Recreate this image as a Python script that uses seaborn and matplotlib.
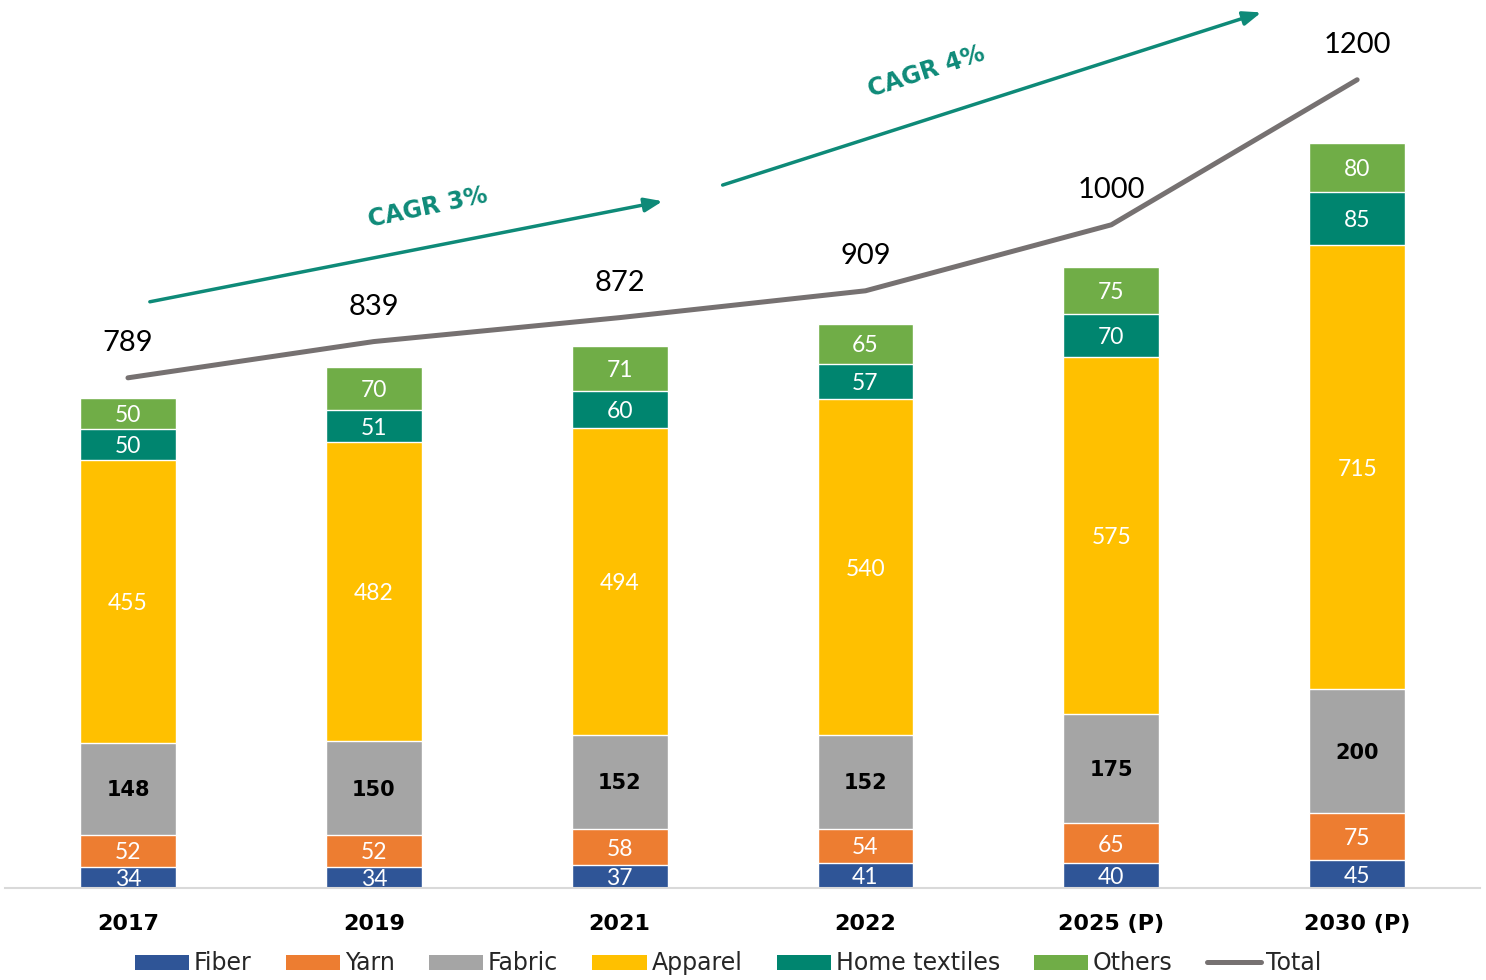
import numpy as np
import pandas as pd
import matplotlib
matplotlib.use("Agg")
import matplotlib.pyplot as plt
import seaborn as sns
from matplotlib.patches import Patch
from matplotlib.lines import Line2D

# ---- data ----
years = ["2017", "2019", "2021", "2022", "2025 (P)", "2030 (P)"]
fiber = [34, 34, 37, 41, 40, 45]
yarn = [52, 52, 58, 54, 65, 75]
fabric = [148, 150, 152, 152, 175, 200]
apparel = [455, 482, 494, 540, 575, 715]
home_textiles = [50, 51, 60, 57, 70, 85]
others = [50, 70, 71, 65, 75, 80]
total = [789, 839, 872, 909, 1000, 1200]
series_names = ["Fiber", "Yarn", "Fabric", "Apparel", "Home textiles", "Others"]
cagr_labels = ["CAGR 3%", "CAGR 4%"]

colors = ["#2F5597", "#ED7D31", "#A5A5A5", "#FFC000", "#00856F", "#70AD47"]
label_colors = ["white", "white", "black", "white", "white", "white"]
line_color = "#767171"
teal = "#0E8A78"

sns.set_theme(style="white")
plt.rcParams["font.family"] = ["DejaVu Sans"]

series = [fiber, yarn, fabric, apparel, home_textiles, others]
df = pd.DataFrame({"year": years})
for name, vals in zip(series_names, series):
    df[name] = vals
cum = df[series_names].cumsum(axis=1)

fig = plt.figure(figsize=(14.86, 9.8), dpi=100)
ax = fig.add_axes([0.0034, 0.0939, 0.9926, 0.9061])

# draw cumulative bars from top to bottom (stacked look)
for i in range(len(series_names) - 1, -1, -1):
    name = series_names[i]
    sns.barplot(x=df["year"], y=cum[name], order=years, color=colors[i],
                width=0.39, edgecolor="white", linewidth=1.0, ax=ax,
                saturation=1)

# segment labels
for i, name in enumerate(series_names):
    for j in range(len(years)):
        v = df[name][j]
        top = cum[name][j]
        yc = top - v / 2
        if name == "Fabric":
            ax.annotate(f"{v}", (j, yc), xytext=(0, -1.2), textcoords="offset points",
                        ha="center", va="center", fontsize=15,
                        fontweight="bold", color="black", family="DejaVu Sans")
        else:
            ax.annotate(f"{v}", (j, yc), xytext=(0, -1.5), textcoords="offset points",
                        ha="center", va="center", fontsize=16.5,
                        color=label_colors[i], family="Lato")

ax.set_xlim(-0.5, 5.5)
ax.set_ylim(0, 1430)
ax.set_xlabel("")
ax.set_ylabel("")
ax.set_yticks([])
for s in ["top", "right", "left"]:
    ax.spines[s].set_visible(False)
ax.spines["bottom"].set_color("#D9D9D9")
ax.spines["bottom"].set_linewidth(1.5)
ax.tick_params(axis="x", length=0, pad=18.5)
for lab in ax.get_xticklabels():
    lab.set_fontsize(16)
    lab.set_fontweight("bold")
    lab.set_color("black")

# total line on secondary axis
ax2 = ax.twinx()
xs = np.arange(len(years))
sns.lineplot(x=xs, y=total, color=line_color, linewidth=3.6, ax=ax2,
             solid_capstyle="round")
ax2.set_ylim(85.5, 1310)
ax2.set_xlim(-0.5, 5.5)
ax2.set_yticks([])
ax2.set_ylabel("")
for s in ["top", "right", "left", "bottom"]:
    ax2.spines[s].set_visible(False)
for x, t in zip(xs, total):
    ax2.annotate(f"{t}", (x, t), xytext=(0, 24.8), textcoords="offset points",
                 ha="center", va="center", fontsize=21, family="Lato",
                 color="black")

# CAGR arrows
ax.annotate("", xy=(2.175, 1106), xytext=(0.089, 944),
            arrowprops=dict(arrowstyle="-|>,head_length=0.9,head_width=0.35",
                            color=teal, lw=2.5, shrinkA=0, shrinkB=0))
ax.annotate("", xy=(4.61, 1410), xytext=(2.419, 1132),
            arrowprops=dict(arrowstyle="-|>,head_length=0.9,head_width=0.35",
                            color=teal, lw=2.5, shrinkA=0, shrinkB=0))
ax.text(1.22, 1095, cagr_labels[0], rotation=12, ha="center", va="center",
        fontsize=17, fontweight="bold", color=teal, rotation_mode="anchor")
ax.text(3.25, 1314, cagr_labels[1], rotation=18, ha="center", va="center",
        fontsize=17, fontweight="bold", color=teal, rotation_mode="anchor")

# legend
handles = [Patch(facecolor=c, edgecolor="none") for c in colors]
handles.append(Line2D([0], [0], color=line_color, lw=3.6, solid_capstyle="round"))
labels = series_names + ["Total"]
fig.legend(handles, labels, loc="center", bbox_to_anchor=(0.49, 0.017),
           ncol=7, frameon=False, fontsize=17, handlelength=2.3,
           handleheight=0.6, handletextpad=0.2, columnspacing=1.45)

fig.savefig("out.png", dpi=100)
